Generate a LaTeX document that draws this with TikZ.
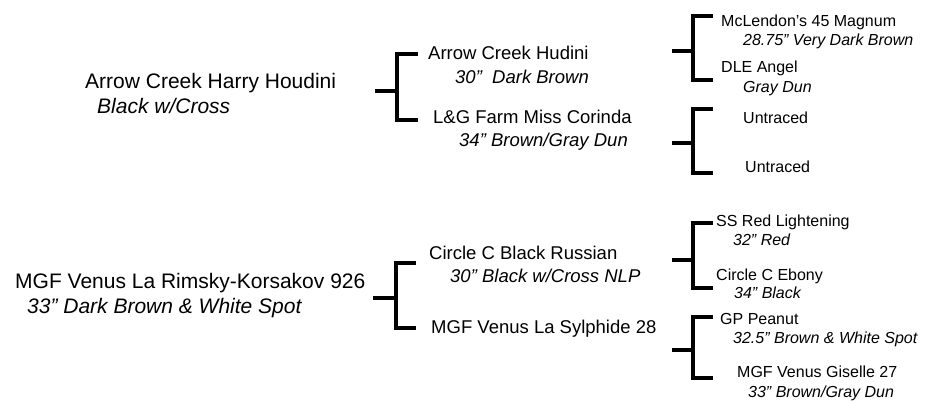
\documentclass[tikz,border=0pt]{standalone}
\usepackage{fontspec}
\setmainfont{Liberation Sans}

\tikzset{
  bracket/.style={line width=4pt, line join=miter},
  big/.style={anchor=base west, inner sep=0, font=\fontsize{21}{25}\selectfont},
  mid/.style={anchor=base west, inner sep=0, font=\fontsize{18.5}{22}\selectfont},
  small/.style={anchor=base west, inner sep=0, font=\fontsize{16}{19}\selectfont},
}

\begin{document}
\begin{tikzpicture}[x=1pt, y=-1pt]
    \useasboundingbox (0,0) rectangle (930,402);

    % generation 1
    \node[big] (houdini) at (85,88) {Arrow Creek Harry Houdini};
    \node[big] (houdini-c) at (97,113) {\itshape Black w/Cross};
    \node[big] (rimsky) at (15,288) {MGF Venus La Rimsky-Korsakov 926};
    \node[big] (rimsky-c) at (27,313) {\itshape 33” Dark Brown \& White Spot};

    % generation 2
    \node[mid] (hudini) at (428,59) {Arrow Creek Hudini};
    \node[mid] (hudini-c) at (455,83) {\itshape 30”~ Dark Brown};
    \node[mid] (corinda) at (433,123) {L\&G Farm Miss Corinda};
    \node[mid] (corinda-c) at (459,146) {\itshape 34” Brown/Gray Dun};
    \node[mid] (russian) at (429,259) {Circle C Black Russian};
    \node[mid] (russian-c) at (450,282) {\itshape 30” Black w/Cross NLP};
    \node[mid] (sylphide) at (431,333) {MGF Venus La Sylphide 28};

    % generation 3
    \node[small] (magnum) at (721,26) {McLendon’s 45 Magnum};
    \node[small] (magnum-c) at (743,45) {\itshape 28.75” Very Dark Brown};
    \node[small] (angel) at (721,72) {DLE Angel};
    \node[small] (angel-c) at (743,92) {\itshape Gray Dun};
    \node[small] (untraced1) at (743,123) {Untraced};
    \node[small] (untraced2) at (745,172) {Untraced};
    \node[small] (redlight) at (716,226) {SS Red Lightening};
    \node[small] (redlight-c) at (733,245) {\itshape 32” Red};
    \node[small] (ebony) at (716,280) {Circle C Ebony};
    \node[small] (ebony-c) at (734,298) {\itshape 34” Black};
    \node[small] (peanut) at (720,324) {GP Peanut};
    \node[small] (peanut-c) at (733,343) {\itshape 32.5” Brown \& White Spot};
    \node[small] (giselle) at (737,377) {MGF Venus Giselle 27};
    \node[small] (giselle-c) at (748,397) {\itshape 33” Brown/Gray Dun};

    % brackets: name/stub x/stub y/spine x/top y/bottom y/arm x
    \foreach \n/\sx/\sy/\vx/\ty/\by/\ax in {
        ha/375/91/397/54/120/418, ra/373/298/396/263/328/416,
        hb/672/51/693/16/80/713, cb/672/143/693/109/173/713,
        rb/672/260/693/223/288/713, sb/672/350/693/317/378/713} {
      \coordinate (\n-s) at (\sx,\sy);
      \coordinate (\n-t) at (\ax,\ty);
      \coordinate (\n-b) at (\ax,\by);
      \coordinate (\n-v) at (\vx,\by);
      \draw[bracket] (\n-t) -| (\n-v) -- (\n-b);
      \draw[bracket] (\n-s) -- (\n-s -| \n-v);
    }

\end{tikzpicture}
\end{document}
